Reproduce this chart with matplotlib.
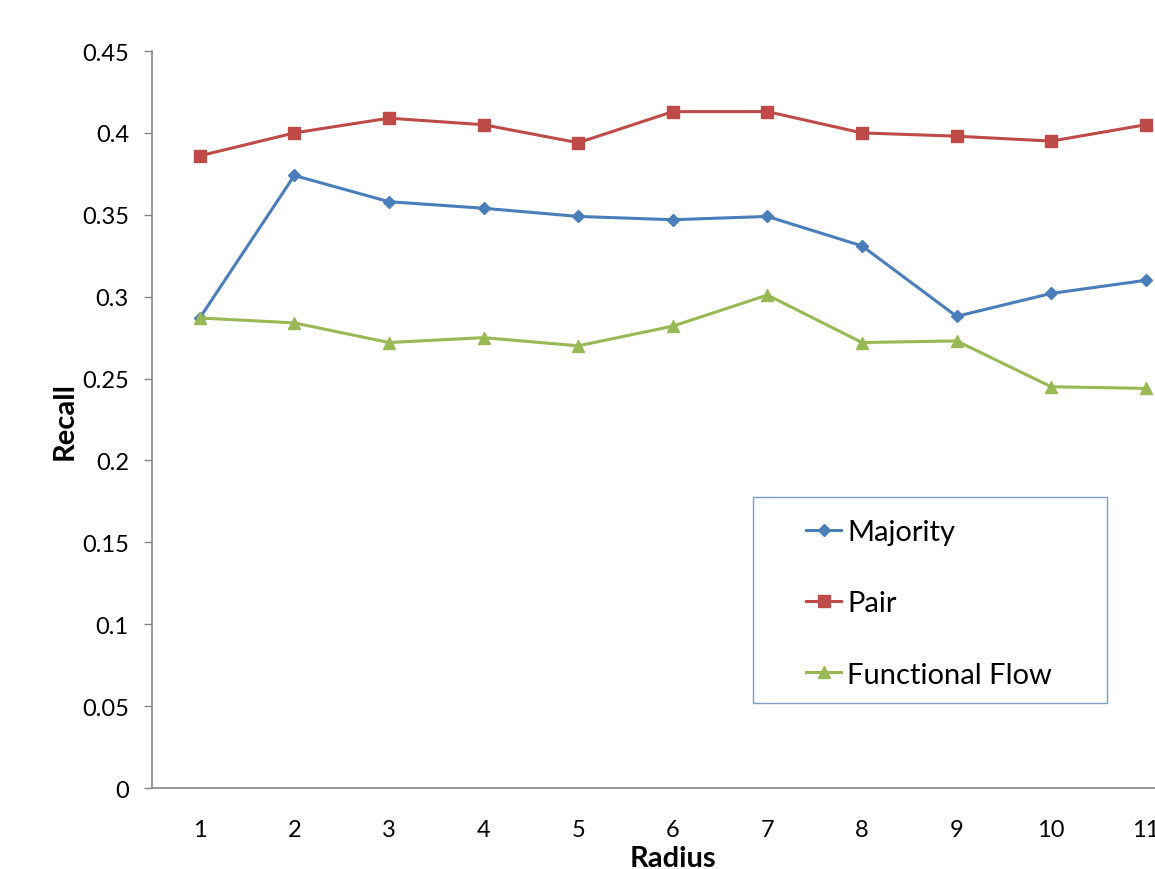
import matplotlib.pyplot as plt
from matplotlib.patches import Rectangle

radius = [1, 2, 3, 4, 5, 6, 7, 8, 9, 10, 11]
majority = [0.287, 0.374, 0.358, 0.354, 0.349, 0.347, 0.349, 0.331, 0.288, 0.302, 0.310]
pair = [0.386, 0.400, 0.409, 0.405, 0.394, 0.413, 0.413, 0.400, 0.398, 0.395, 0.405]
functional_flow = [0.287, 0.284, 0.272, 0.275, 0.270, 0.282, 0.301, 0.272, 0.273, 0.245, 0.244]
yticks = [0, 0.05, 0.1, 0.15, 0.2, 0.25, 0.3, 0.35, 0.4, 0.45]

plt.rcParams['font.family'] = ['Lato', 'DejaVu Sans']

fig = plt.figure(figsize=(11.55, 8.7), dpi=100)
ax = fig.add_axes([0.132, 0.0931, 0.901, 0.8471])

ax.plot(radius, majority, color='#4A7EBB', lw=2.2, marker='D', ms=6, label='Majority')
ax.plot(radius, pair, color='#BE4B48', lw=2.2, marker='s', ms=8, label='Pair')
ax.plot(radius, functional_flow, color='#98B954', lw=2.2, marker='^', ms=8, label='Functional Flow')

ax.set_xlim(0.5, 11.5)
ax.set_ylim(0, 0.45)
ax.set_xticks(radius)
ax.set_yticks(yticks)
ax.set_yticklabels([f'{v:g}' for v in yticks])
ax.tick_params(axis='x', length=0, pad=22, labelsize=17)
ax.tick_params(axis='y', length=6, width=1, color='#868686', pad=11, labelsize=17)
for s in ['top', 'right']:
    ax.spines[s].set_visible(False)
for s in ['left', 'bottom']:
    ax.spines[s].set_color('#868686')
    ax.spines[s].set_linewidth(1.2)

ax.set_xlabel('Radius', fontsize=21, fontweight='bold', labelpad=4)
ax.set_ylabel('Recall', fontsize=21, fontweight='bold', labelpad=3)

# legend box drawn separately (wide side margins like the original)
fig.patches.append(Rectangle((0.652, 0.1908), 0.3065, 0.2368, transform=fig.transFigure,
                             fill=False, edgecolor='#7F9DC9', linewidth=1))
ax.legend(loc='upper left', bbox_to_anchor=(0.698, 0.402), bbox_transform=fig.transFigure,
          fontsize=21, frameon=False, labelspacing=1.55,
          handlelength=1.2, handletextpad=0.2, borderpad=0, borderaxespad=0)

fig.savefig('out.png')
